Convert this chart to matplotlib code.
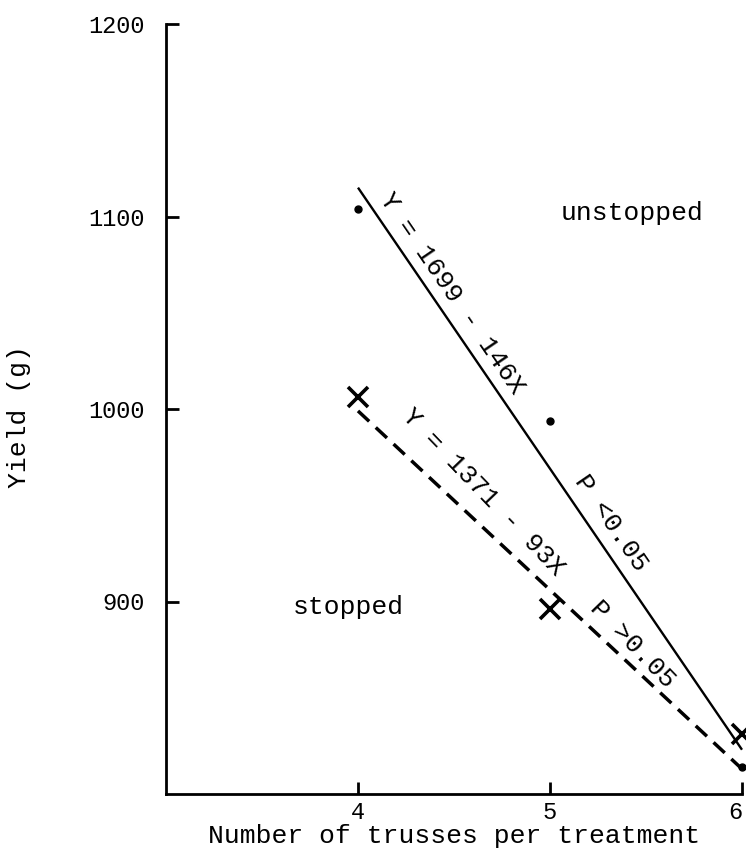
import numpy as np
import matplotlib
matplotlib.use('Agg')
import matplotlib.pyplot as plt

# data
trusses = [4, 5, 6]
unstopped = [1104, 994, 814]
stopped = [1006, 896, 831]

fit_unstopped = (1699, -146)
fit_stopped = (1371, -93)

plt.rcParams['font.family'] = ['Liberation Mono', 'DejaVu Sans Mono']

fig = plt.figure(figsize=(7.46, 8.56), dpi=100)
ax = fig.add_axes([166 / 746, 1 - 794 / 856, (742 - 166) / 746, (794 - 24) / 856])
ax.set_xlim(3, 6)
ax.set_ylim(800, 1200)

xs = np.array([4, 6])
ax.plot(xs, fit_unstopped[0] + fit_unstopped[1] * xs, color='black', lw=1.7,
        solid_capstyle='butt', clip_on=False)
ax.plot(xs, fit_stopped[0] + fit_stopped[1] * xs, color='black', lw=2.5,
        linestyle=(0, (4.4, 2.6)), clip_on=False)

ax.plot(trusses, unstopped, 'o', color='black', ms=5, clip_on=False)
ax.plot(trusses, stopped, 'x', color='black', ms=15, mew=2.6, clip_on=False)


def angle(a, b):
    p1 = ax.transData.transform((4, a + b * 4))
    p2 = ax.transData.transform((6, a + b * 6))
    return np.degrees(np.arctan2(p2[1] - p1[1], p2[0] - p1[0]))


ang1 = angle(*fit_unstopped)
ang2 = angle(*fit_stopped)
fs = 19
ax.text(4.49, 1060, 'Y = 1699 - 146X', rotation=ang1, ha='center', va='center',
        rotation_mode='anchor', fontsize=fs)
ax.text(5.32, 941, 'P <0.05', rotation=ang1, ha='center', va='center',
        rotation_mode='anchor', fontsize=fs)
ax.text(4.65, 957, 'Y = 1371 - 93X', rotation=ang2 - 3, ha='center', va='center',
        rotation_mode='anchor', fontsize=fs)
ax.text(5.43, 878, 'P >0.05', rotation=ang2 - 3, ha='center', va='center',
        rotation_mode='anchor', fontsize=fs)
ax.text(5.43, 1102, 'unstopped', ha='center', va='center', fontsize=fs)
ax.text(3.95, 897, 'stopped', ha='center', va='center', fontsize=fs)

ax.spines['top'].set_visible(False)
ax.spines['right'].set_visible(False)
ax.spines['left'].set_linewidth(2)
ax.spines['bottom'].set_linewidth(2)
ax.set_xticks([4, 5, 6])
ax.set_yticks([900, 1000, 1100, 1200])
ax.tick_params(direction='in', length=9, width=2, labelsize=17)
ax.tick_params(axis='x', pad=5)
ax.tick_params(axis='y', pad=15)
ax.get_xticklabels()[-1].set_horizontalalignment('right')

ax.set_xlabel('Number of trusses per treatment', fontsize=19, labelpad=0)
ax.set_ylabel('Yield (g)', fontsize=19)
ax.yaxis.set_label_coords(-0.235, 0.49)

plt.savefig('out.png', dpi=100)
